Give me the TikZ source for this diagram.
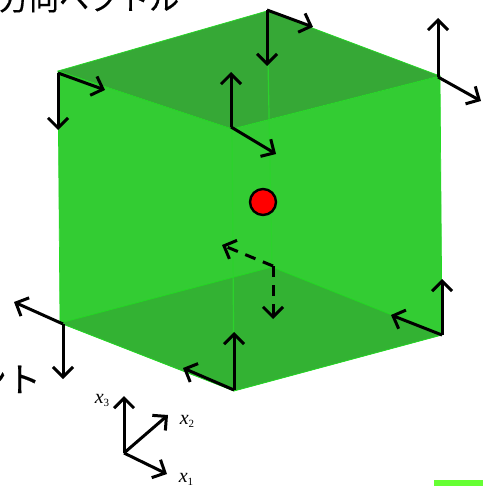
\documentclass[tikz,border=0pt]{standalone}
\usepackage{fontspec}
\usepackage{xcolor}
\usetikzlibrary{arrows.meta,positioning,calc}
\newfontfamily\jpfont[FakeBold=0.4]{Noto Sans CJK JP}
\newfontfamily\axfont{Liberation Serif}
\definecolor{facegreen}{RGB}{51,204,51}
\definecolor{topgreen}{RGB}{54,168,54}
\definecolor{botgreen}{RGB}{51,178,51}
\definecolor{edgegreen}{RGB}{35,218,35}
\definecolor{markgreen}{RGB}{102,255,51}
\newcommand{\axlabel}[1]{{\axfont\fontsize{20}{20}\selectfont\itshape x\raisebox{-3pt}{\fontsize{11}{11}\selectfont\upshape #1}}}
\begin{document}
\begin{tikzpicture}[
  x=1pt, y=-1pt,
  arr/.style={-{Straight Barb[length=10pt, width=20pt, line width=3pt]}, line width=3pt, black},
  dasharr/.style={arr, dashed, dash pattern=on 11pt off 8pt},
  edge/.style={draw=edgegreen, line width=0.7pt},
  faint/.style={draw=edgegreen!45!facegreen, line width=1.2pt},
  jptext/.style={font=\jpfont\fontsize{30}{30}\selectfont, inner sep=0pt},
  axis/.style={inner sep=0pt},
]
\useasboundingbox (0,0) rectangle (483,486);
\fill[white] (0,0) rectangle (483,486);
\coordinate (tl) at (58,71);
\coordinate (tb) at (267,11);
\coordinate (tr) at (440,76);
\coordinate (tf) at (232,129);
\coordinate (bl) at (60,323);
\coordinate (bb) at (272,267);
\coordinate (br) at (442,335);
\coordinate (bf) at (234,391);
\fill[facegreen] (tl) -- (tf) -- (tr) -- (br) -- (bf) -- (bl) -- cycle;
\fill[topgreen] (tl) -- (tb) -- (tr) -- (tf) -- cycle;
\fill[botgreen] (bl) -- (bb) -- (br) -- (bf) -- cycle;
\draw[faint] (tf) -- (bf);
\draw[faint] (tb) -- (bb);
\draw[edge] (tl) -- (tb) -- (tr) -- (tf) -- cycle;
\draw[edge] (tl) -- (bl) -- (bf) -- (br) -- (tr);
\draw[edge] (bl) -- (bb) -- (br);
\node[jptext, anchor=base west] (title) at (-1,10) {方向ベクトル};
\node[jptext, anchor=base east, font=\jpfont\fontsize{34}{34}\selectfont] (point) at (41,392) {ント};
\node[circle, draw, line width=2.4pt, fill=red, inner sep=0pt, minimum size=26pt] (ball) at (263,202) {};
\coordinate (a0) at (58,73);
\coordinate (a1) at (105,90);
\coordinate (a2) at (58,130);
\draw[arr] (a0) -- (a1);
\draw[arr] (a0) -- (a2);
\coordinate (b0) at (267,10);
\coordinate (b1) at (313,27);
\coordinate (b2) at (267,66);
\draw[arr] (b0) -- (b1);
\draw[arr] (b0) -- (b2);
\coordinate (c0) at (438,77);
\coordinate (c1) at (481,101);
\coordinate (c2) at (438,18);
\draw[arr] (c0) -- (c1);
\draw[arr] (c0) -- (c2);
\coordinate (d0) at (231,127);
\coordinate (d1) at (276,154);
\coordinate (d2) at (231,72);
\draw[arr] (d0) -- (d1);
\draw[arr] (d0) -- (d2);
\coordinate (e0) at (63,324);
\coordinate (e1) at (14,302);
\coordinate (e2) at (63,379);
\draw[arr] (e0) -- (e1);
\draw[arr] (e0) -- (e2);
\coordinate (f0) at (234,390);
\coordinate (f1) at (183,368);
\coordinate (f2) at (234,332);
\draw[arr] (f0) -- (f1);
\draw[arr] (f0) -- (f2);
\coordinate (g0) at (442,335);
\coordinate (g1) at (391,315);
\coordinate (g2) at (442,279);
\draw[arr] (g0) -- (g1);
\draw[arr] (g0) -- (g2);
\coordinate (h0) at (273,266);
\coordinate (h1) at (222,245);
\coordinate (h2) at (273,319);
\draw[dasharr] (h0) -- (h1);
\draw[dasharr] (h0) -- (h2);
\coordinate (o) at (124,453);
\node[axis] (xone) at (186,479) {\axlabel{1}};
\node[axis] (xtwo) at (187,421) {\axlabel{2}};
\node[axis] (xthree) at (102,400) {\axlabel{3}};
\coordinate (o1) at (167,474);
\coordinate (o2) at (168,415);
\coordinate (o3) at (124,396);
\draw[arr] (o) -- (o1);
\draw[arr] (o) -- (o2);
\draw[arr] (o) -- (o3);
\node[fill=markgreen, inner sep=0pt, minimum width=49pt, minimum height=6pt] (mark) at (458.5,483) {};
\end{tikzpicture}
\end{document}
